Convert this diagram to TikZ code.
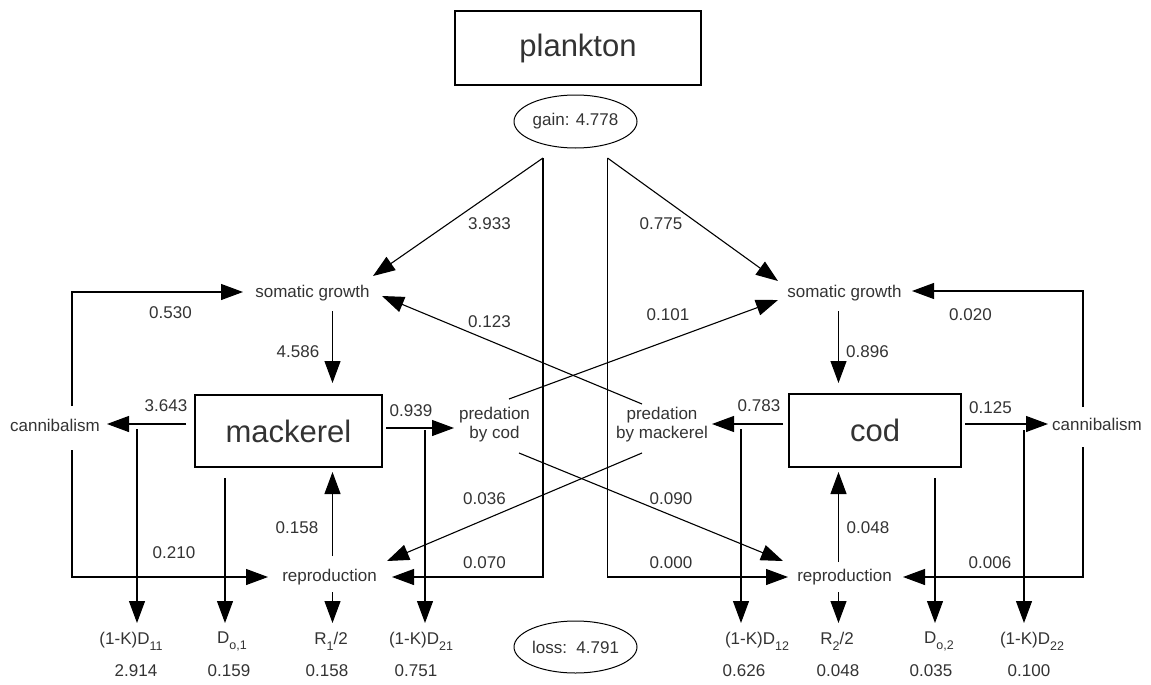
\documentclass[tikz,border=0pt]{standalone}
\usepackage{fontspec}
\setmainfont{Liberation Sans}
\usetikzlibrary{arrows.meta,calc,shapes.geometric}
\definecolor{txt}{HTML}{333333}
\newcommand{\sbs}[1]{\raisebox{-0.35em}{\fontsize{12.5}{12.5}\selectfont #1}}
\begin{document}
\begin{tikzpicture}[x=1pt,y=-1pt,
 lab/.style={inner sep=0pt,text=txt,font=\fontsize{17}{19}\selectfont},
 big/.style={draw,line width=1.7pt,inner sep=0pt,text=txt,font=\fontsize{31}{31}\selectfont},
 oval/.style={draw,ellipse,line width=1pt,inner sep=0pt,text=txt,font=\fontsize{17}{19}\selectfont},
 arr/.style={line width=1.1pt,-{Triangle[length=22pt,width=16pt]}}]
\useasboundingbox (0,0) rectangle (1151,685);
% main nodes
\node[big,minimum width=246,minimum height=74] (plank) at (578,48) {plankton};
\node[oval,minimum width=123,minimum height=53] (gain) at (575.5,121.5) {gain: 4.778};
\node[oval,minimum width=123,minimum height=52] (loss) at (575.5,647) {loss:\ \ 4.791};
\node[big,minimum width=187,minimum height=72] (mack) at (288.5,431) {mackerel};
\node[big,minimum width=172,minimum height=73] (cod) at (875,430.5) {cod};
\node[lab] (sgL) at (312.5,293) {somatic growth};
\node[lab] (sgR) at (844.5,293) {somatic growth};
\node[lab] (canL) at (55,425) {cannibalism};
\node[lab] (canR) at (1097,424) {cannibalism};
\node[lab,align=center] (predC) at (494.5,425) {predation\\by cod};
\node[lab,align=center] (predM) at (662,425) {predation\\by mackerel};
\node[lab] (repL) at (329.5,577) {reproduction};
\node[lab] (repR) at (844.5,577) {reproduction};
% bottom labels
\node[lab] (kd11) at (131,641) {(1-K)D\sbs{11}};
\node[lab] (do1) at (232,641) {D\sbs{o,1}};
\node[lab] (r1) at (331,641) {R\sbs{1}/2};
\node[lab] (kd21) at (421,641) {(1-K)D\sbs{21}};
\node[lab] (kd12) at (757,641) {(1-K)D\sbs{12}};
\node[lab] (r2) at (837,641) {R\sbs{2}/2};
\node[lab] (do2) at (939,641) {D\sbs{o,2}};
\node[lab] (kd22) at (1032,641) {(1-K)D\sbs{22}};
\node[lab] (v1) at (136,671) {2.914};
\node[lab] (v2) at (229,671) {0.159};
\node[lab] (v3) at (327,671) {0.158};
\node[lab] (v4) at (416,671) {0.751};
\node[lab] (v5) at (744,671) {0.626};
\node[lab] (v6) at (838,671) {0.048};
\node[lab] (v7) at (931,671) {0.035};
\node[lab] (v8) at (1029,671) {0.100};
% edge labels
\node[lab] (e1) at (489.5,224) {3.933};
\node[lab] (e2) at (661,224) {0.775};
\node[lab] (e3) at (170.5,313) {0.530};
\node[lab] (e4) at (298,352) {4.586};
\node[lab] (e5) at (489.5,322) {0.123};
\node[lab] (e6) at (668,315) {0.101};
\node[lab] (e7) at (970.5,315) {0.020};
\node[lab] (e8) at (867.5,352) {0.896};
\node[lab] (e9) at (166,406) {3.643};
\node[lab] (e10) at (411,411) {0.939};
\node[lab] (e11) at (759,406) {0.783};
\node[lab] (e12) at (990.5,408) {0.125};
\node[lab] (e13) at (484.5,499) {0.036};
\node[lab] (e14) at (671,499) {0.090};
\node[lab] (e15) at (297,528) {0.158};
\node[lab] (e16) at (868,528) {0.048};
\node[lab] (e17) at (174,553) {0.210};
\node[lab] (e18) at (484.5,563) {0.070};
\node[lab] (e19) at (671,563) {0.000};
\node[lab] (e20) at (990,563) {0.006};
% plankton flows
\coordinate (pL) at ($(gain)+(-32.5,36.5)$);
\coordinate (pR) at ($(gain)+(32,36.5)$);
\draw[arr] (pL) -- ($(sgL)+(60.5,-17)$);
\draw[arr] (pL) |- ($(repL)+(62.5,0)$);
\draw[arr] (pR) -- ($(sgR)+(-66.5,-12)$);
\draw[arr] (pR) |- ($(repR)+(-56.5,0)$);
% mackerel side
\draw[arr] ($(canL)+(17,-19)$) |- ($(sgL)+(-69.5,-1)$);
\draw[arr] ($(canL)+(17,25)$) |- ($(repL)+(-61.5,0)$);
\draw[arr] ($(mack)+(-102.5,-7)$) -- ($(canL)+(52,-1)$);
\draw[arr] ($(mack)+(-151.5,-2)$) -- ($(kd11)+(6,-18)$);
\draw[arr] ($(mack)+(97.5,-3)$) -- ($(predC)+(-40.5,3)$);
\draw[arr] ($(mack)+(136.5,-1)$) -- ($(kd21)+(4,-18)$);
\draw[arr] ($(mack)+(-63.5,47)$) -- ($(do1)+(-7,-18)$);
\draw[arr] ($(repL)+(3,-21)$) -- ($(mack)+(44,41)$);
\draw[arr] ($(repL)+(3,15)$) -- ($(r1)+(1.5,-18)$);
\draw[arr] ($(sgL)+(20,18)$) -- ($(mack)+(44,-48)$);
% predation crossings
\draw[arr] ($(predM)+(-20,-21)$) -- ($(sgL)+(69.5,3)$);
\draw[arr] ($(predM)+(-20,28)$) -- ($(repL)+(57.5,-16)$);
\draw[arr] ($(predC)+(14.5,-26)$) -- ($(sgR)+(-66.5,7)$);
\draw[arr] ($(predC)+(24.5,28)$) -- ($(repR)+(-61.5,-16)$);
% cod side
\draw[arr] ($(sgR)+(-6,18)$) -- ($(cod)+(-36.5,-47.5)$);
\draw[arr] ($(cod)+(-92,-6.5)$) -- ($(predM)+(50,-1)$);
\draw[arr] ($(cod)+(-134,-1.5)$) -- ($(kd12)+(-16,-18)$);
\draw[arr] ($(cod)+(90,-6.5)$) -- ($(canR)+(-49,0)$);
\draw[arr] ($(cod)+(149,-0.5)$) -- ($(kd22)+(-8,-18)$);
\draw[arr] ($(canR)+(-14,-17)$) |- ($(sgR)+(67.5,-2)$);
\draw[arr] ($(canR)+(-14,23)$) |- ($(repR)+(58.5,0)$);
\draw[arr] ($(cod)+(60,47.5)$) -- ($(do2)+(-4,-18)$);
\draw[arr] ($(repR)+(-6,-15)$) -- ($(cod)+(-36.5,41.5)$);
\draw[arr] ($(repR)+(-6,15)$) -- ($(r2)+(1.5,-18)$);
\end{tikzpicture}
\end{document}
